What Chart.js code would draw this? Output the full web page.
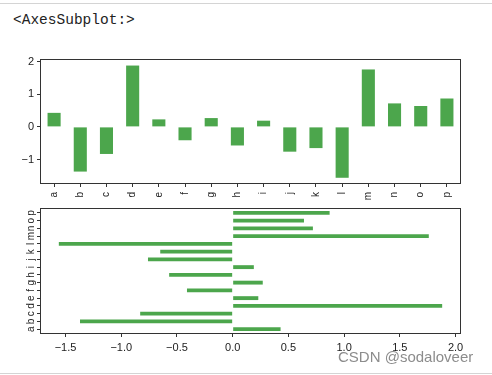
<!DOCTYPE html>
<html><head><meta charset="utf-8">
<script src="https://cdn.jsdelivr.net/npm/chart.js@4"></script>
<style>
html,body{margin:0;padding:0;background:#fff;}
body{width:492px;height:375px;position:relative;overflow:hidden;}
canvas{position:absolute;left:0;top:0;}
#hdr{position:absolute;left:13px;top:12px;font:14.5px "Liberation Mono",monospace;color:#222;white-space:pre;}
#wm{position:absolute;left:338px;top:348px;font:15px "Liberation Sans",Arial,sans-serif;color:#8c8c8c;white-space:pre;}
.line{position:absolute;left:0;width:492px;height:1px;background:#d4d4d4;}
</style></head><body>
<div class="line" style="top:3px"></div>
<div class="line" style="top:373px"></div>
<div id="hdr">&lt;AxesSubplot:&gt;</div>
<canvas id="c1" width="492" height="375"></canvas>
<canvas id="c2" width="492" height="375"></canvas>
<div id="wm">CSDN @sodaloveer</div>
<script>
const categories = ['a','b','c','d','e','f','g','h','i','j','k','l','m','n','o','p'];
const values = [0.43,-1.37,-0.83,1.88,0.23,-0.41,0.27,-0.57,0.19,-0.76,-0.65,-1.56,1.76,0.72,0.64,0.87];
const valueTicks = [-1,0,1,2];
const valueTickLabels = ['\u22121','0','1','2'];
const barhTicks = [-1.5,-1,-0.5,0,0.5,1,1.5,2];
const barhTickLabels = ['\u22121.5','\u22121.0','\u22120.5','0.0','0.5','1.0','1.5','2.0'];

const barColor = 'rgba(0,128,0,0.7)';
const axisColor = '#333';
const numFont = {family:'"Liberation Sans", Arial, sans-serif', size:11};
const letFont = {family:'"Liberation Sans", Arial, sans-serif', size:10};

const frame = {id:'frame', afterDraw(chart){
  const {ctx, chartArea:a} = chart;
  ctx.save(); ctx.strokeStyle = axisColor; ctx.lineWidth = 1;
  ctx.strokeRect(Math.round(a.left)-0.5, Math.round(a.top)-0.5, Math.round(a.right-a.left)+1, Math.round(a.bottom-a.top)+1);
  ctx.restore();
}};

const tickGrid = {display:true, drawOnChartArea:false, drawTicks:true, tickLength:4, color:axisColor, lineWidth:1, offset:false};

new Chart(document.getElementById('c1'), {
  type:'bar',
  data:{labels:categories, datasets:[{data:values, backgroundColor:barColor, borderWidth:0, barPercentage:0.5, categoryPercentage:1}]},
  options:{
    responsive:false, animation:false,
    layout:{padding:{left:0, top:60, right:32, bottom:162}},
    plugins:{legend:{display:false}, tooltip:{enabled:false}},
    scales:{
      x:{type:'category', offset:true, grid:tickGrid, border:{display:false},
         ticks:{autoSkip:false, minRotation:90, maxRotation:90, padding:5, color:'#222', font:letFont},
         afterFit(s){s.height=30;}},
      y:{type:'linear', min:-1.72, max:2.05, grid:tickGrid, border:{display:false},
         afterBuildTicks(s){s.ticks = valueTicks.map(v=>({value:v}));},
         ticks:{padding:3, color:'#222', font:numFont, callback:(v,i)=>valueTickLabels[i]},
         afterFit(s){s.width=41;}}
    }
  },
  plugins:[frame]
});

new Chart(document.getElementById('c2'), {
  type:'bar',
  data:{labels:categories, datasets:[{data:values, backgroundColor:barColor, borderWidth:0, barPercentage:0.5, categoryPercentage:1}]},
  options:{
    indexAxis:'y', responsive:false, animation:false,
    layout:{padding:{left:0, top:209, right:32, bottom:12}},
    plugins:{legend:{display:false}, tooltip:{enabled:false}},
    scales:{
      x:{type:'linear', min:-1.72, max:2.04, grid:tickGrid, border:{display:false},
         afterBuildTicks(s){s.ticks = barhTicks.map(v=>({value:v}));},
         ticks:{padding:4, color:'#222', font:numFont, maxRotation:0, callback:(v,i)=>barhTickLabels[i]},
         afterFit(s){s.height=30;}},
      y:{type:'category', reverse:true, offset:true, grid:tickGrid, border:{display:false},
         ticks:{autoSkip:false, minRotation:90, maxRotation:90, crossAlign:'center', padding:2, color:'#222', font:letFont},
         afterFit(s){s.width=41;}}
    }
  },
  plugins:[frame]
});
</script>
</body></html>
